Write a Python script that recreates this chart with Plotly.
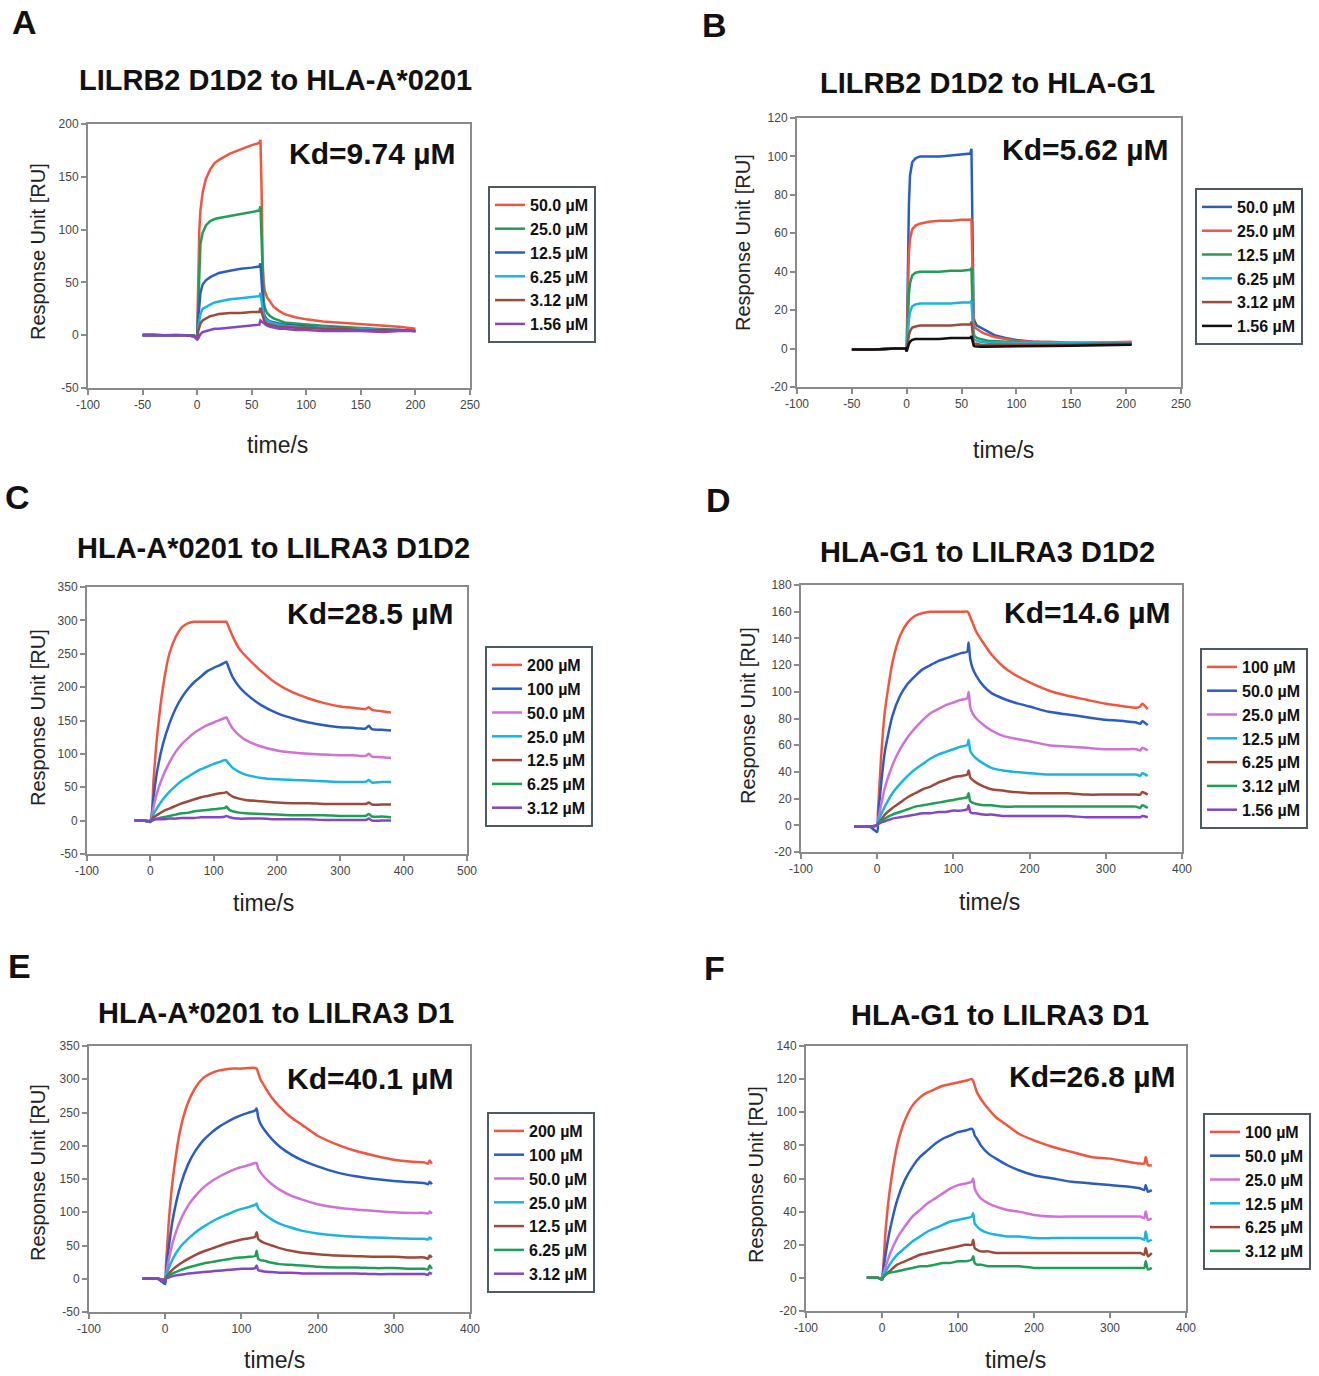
import plotly.graph_objects as go

W, H = 1319, 1376

# ---------------- Panel A: LILRB2 D1D2 to HLA-A*0201 ----------------
a_t = [-50, -40, -30, -20, -10, -3, 0, 1, 2, 3, 5, 8, 12, 16, 20, 30, 40, 50, 57, 58, 59, 60, 61, 62, 64, 67, 70, 75, 80, 90, 100, 115, 130, 150, 170, 185, 200]
a_500 = [1, 1, 0, 0.5, 0, 0, -2, 60, 100, 118, 135, 148, 157, 163, 166, 172, 176, 180, 182, 185, 140, 70, 50, 42, 36, 31, 27, 23, 20, 17, 15, 13, 12, 10, 9, 8, 6]
a_250 = [0, 0, 0, 0, 0, 0, -3, 35, 70, 86, 97, 104, 108, 110, 111, 113, 115, 117, 118, 122, 90, 45, 32, 26, 21, 18, 16, 14, 12, 11, 10, 9, 8, 7, 6, 5, 4]
a_125 = [0, 0, 0, 0, 0, -1, -3, 15, 30, 40, 48, 52, 55, 57, 59, 61, 63, 64, 65, 68, 50, 28, 21, 18, 15, 13, 12, 11, 10, 9, 8, 7, 7, 6, 5, 5, 4]
a_625 = [0, 0, 0, 0, 0, -1, -4, 8, 15, 20, 25, 27, 29, 31, 32, 34, 35, 36, 37, 40, 32, 22, 18, 16, 14, 12, 11, 10, 9, 8, 7, 7, 6, 6, 5, 5, 4]
a_312 = [0, 0, 0, 0, 0, -1, -3, 4, 8, 11, 14, 16, 18, 19, 20, 21, 21, 22, 22, 26, 22, 17, 15, 13, 11, 10, 9, 8, 8, 7, 7, 6, 6, 5, 5, 5, 4]
a_156 = [0, 0, 0, 0, 0, -1, -4, -3, -1, 1, 3, 4, 5, 6, 6, 7, 8, 9, 10, 14, 13, 12, 11, 10, 9, 8, 7, 6, 6, 5, 5, 4, 4, 4, 3, 4, 4]

# ---------------- Panel B: LILRB2 D1D2 to HLA-G1 ----------------
b_t = [-50, -30, -10, -1, 0, 1, 2, 3, 5, 8, 12, 20, 30, 40, 50, 58, 59, 60, 61, 62, 64, 67, 70, 75, 80, 90, 100, 115, 130, 150, 175, 205]
b_500 = [-0.5, -0.5, 0, 0, -1, 40, 75, 90, 97, 99, 100, 100, 100, 100.5, 101, 101.5, 104, 60, 16, 14, 12, 11, 10, 8.5, 7, 5.5, 4.5, 3.5, 3, 2.5, 2.5, 2.5]
b_250 = [-0.5, -0.5, 0, 0, -1, 30, 50, 57, 62, 64, 65, 66, 66.5, 66.5, 67, 67, 67.5, 40, 13, 11, 10, 9, 8, 7, 6, 5, 4, 3.5, 3.5, 3, 3, 3.5]
b_125 = [-0.5, -0.5, 0, 0, -1, 15, 28, 34, 38, 39.5, 40, 40, 40, 40.5, 40.5, 41, 42, 20, 8, 6.5, 5.5, 5, 4.5, 4, 4, 3.5, 3.5, 3, 3, 3, 3, 3]
b_625 = [-0.5, -0.5, 0, 0, -1, 8, 15, 19, 22, 23, 23.5, 23.5, 23.5, 23.5, 24, 24, 25, 10, 5, 4.5, 4, 3.5, 3.5, 3, 3, 3, 3, 3, 3, 3, 3, 3]
b_312 = [-0.5, -0.5, 0, 0, -1, 4, 7, 9, 11, 11.5, 12, 12, 12, 12, 12.5, 12.5, 14, 6, 3, 2.5, 2.5, 2, 2, 2, 2, 2, 2, 2, 2, 2, 2.5, 2.5]
b_156 = [-0.5, -0.5, 0, 0, -1.5, 1, 2.5, 3.5, 4.5, 5, 5, 5, 5, 5.5, 5.5, 5.5, 6.5, 3, 1.5, 1.2, 1, 1, 1, 1, 1, 1, 1, 1.2, 1.3, 1.5, 1.8, 2]

# ---------------- Panel C: HLA-A*0201 to LILRA3 D1D2 ----------------
c_t = [-25, -10, 0, 5, 10, 20, 30, 40, 50, 60, 70, 80, 90, 100, 110, 118, 120, 125, 130, 140, 150, 175, 200, 225, 250, 275, 300, 320, 330, 340, 345, 350, 365, 380]
c_200 = [0, 0, 0, 60, 120, 200, 250, 275, 290, 296, 298, 298, 298, 298, 298, 298, 298, 287, 276, 258, 247, 224, 205, 192, 183, 176, 171, 169, 168, 167, 170, 166, 164, 162]
c_100 = [0, 0, 0, 35, 70, 115, 145, 168, 185, 198, 208, 216, 224, 229, 233, 237, 238, 226, 215, 201, 191, 173, 161, 153, 147, 143, 140, 139, 138, 138, 142, 137, 136, 135]
c_500 = [0, 0, 0, 20, 40, 67, 87, 103, 115, 124, 132, 138, 143, 147, 151, 154, 155, 146, 138, 128, 121, 111, 105, 102, 100, 99, 98, 98, 97, 97, 100, 96, 95, 94]
c_250 = [0, 0, -2, 10, 18, 32, 43, 52, 60, 66, 72, 77, 81, 85, 88, 91, 90, 84, 79, 73, 69, 64, 62, 61, 60, 59, 58, 58, 58, 58, 61, 57, 58, 58]
c_125 = [0, 0, -1, 5, 8, 14, 18, 22, 26, 29, 32, 35, 37, 39, 41, 42, 43, 39, 36, 33, 31, 29, 27, 26, 26, 25, 25, 25, 25, 25, 27, 24, 24, 24]
c_625 = [0, 0, -2, 2, 3, 5, 7, 9, 11, 12, 14, 15, 16, 17, 18, 19, 21, 16, 14, 12, 11, 10, 9, 8, 8, 8, 7, 7, 7, 7, 10, 6, 6, 5]
c_312 = [0, 0, -1, 1, 2, 2, 3, 3, 4, 4, 4, 5, 5, 5, 5, 6, 7, 5, 4, 3, 3, 3, 2, 2, 2, 1, 1, 1, 1, 1, 3, 0, 0, 0]

# ---------------- Panel D: HLA-G1 to LILRA3 D1D2 ----------------
d_t = [-30, -10, 0, 1, 5, 10, 20, 30, 40, 50, 60, 70, 80, 90, 100, 110, 118, 120, 122, 125, 130, 140, 150, 165, 180, 200, 225, 250, 275, 300, 325, 340, 345, 348, 355]
d_100 = [-1, -1, 0, 10, 50, 85, 122, 142, 152, 157, 159, 160, 160, 160, 160, 160, 160, 159, 156, 152, 145, 136, 128, 119, 113, 107, 101, 97, 94, 91, 89, 88, 89, 91, 87]
d_500 = [-1, -1, -5, 5, 30, 55, 82, 97, 106, 112, 117, 120, 123, 125, 127, 129, 130, 137, 125, 118, 112, 104, 99, 95, 92, 89, 85, 83, 81, 79, 78, 77, 76, 78, 75]
d_250 = [-1, -1, 0, 3, 15, 28, 45, 57, 66, 73, 79, 84, 87, 90, 92, 94, 95, 100, 89, 84, 80, 75, 71, 67, 65, 63, 60, 59, 58, 57, 57, 57, 56, 58, 56]
d_125 = [-1, -1, 0, 2, 8, 14, 24, 31, 37, 42, 46, 50, 53, 55, 57, 59, 60, 64, 56, 53, 50, 46, 43, 41, 40, 39, 38, 38, 38, 38, 38, 38, 37, 39, 37]
d_625 = [-1, -1, 0, 1, 4, 8, 13, 17, 21, 24, 27, 29, 32, 34, 36, 37, 38, 41, 36, 34, 32, 29, 27, 26, 25, 24, 24, 24, 23, 23, 23, 23, 23, 25, 23]
d_312 = [-1, -1, 0, 1, 3, 5, 8, 10, 12, 14, 15, 16, 17, 18, 19, 20, 21, 24, 18, 17, 16, 15, 15, 14, 14, 14, 14, 14, 14, 14, 14, 14, 13, 15, 13]
d_156 = [-1, -1, 0, 1, 2, 3, 5, 6, 7, 8, 9, 9, 10, 10, 11, 11, 12, 15, 10, 9, 9, 8, 8, 7, 7, 7, 7, 7, 6, 6, 6, 6, 6, 7, 6]

# ---------------- Panel E: HLA-A*0201 to LILRA3 D1 ----------------
e_t = [-30, -10, 0, 1, 5, 10, 20, 30, 40, 50, 60, 70, 80, 90, 100, 110, 118, 120, 122, 125, 130, 140, 150, 165, 180, 200, 225, 250, 275, 300, 325, 340, 345, 347, 350]
e_200 = [0, 0, 0, 20, 90, 150, 225, 265, 288, 302, 309, 313, 315, 316, 316, 317, 317, 316, 310, 300, 290, 272, 259, 243, 231, 215, 202, 192, 185, 179, 176, 175, 173, 178, 173]
e_100 = [0, 0, -8, 10, 50, 90, 140, 172, 193, 208, 219, 228, 235, 241, 246, 250, 253, 256, 243, 233, 224, 210, 199, 187, 178, 169, 160, 154, 150, 147, 145, 144, 142, 146, 142]
e_500 = [0, 0, -2, 5, 30, 55, 88, 110, 125, 137, 146, 153, 159, 164, 168, 171, 174, 174, 166, 160, 153, 142, 134, 125, 119, 112, 107, 104, 102, 100, 99, 99, 98, 101, 98]
e_250 = [0, 0, -3, 3, 17, 30, 48, 60, 70, 78, 85, 91, 96, 101, 105, 108, 111, 113, 106, 102, 97, 89, 83, 77, 72, 68, 65, 63, 62, 61, 60, 60, 59, 62, 59]
e_125 = [0, 0, -3, 1, 8, 14, 23, 30, 36, 41, 45, 49, 53, 56, 59, 61, 63, 70, 60, 57, 54, 50, 46, 42, 39, 37, 35, 34, 33, 33, 32, 32, 30, 35, 32]
e_625 = [0, 0, -3, 1, 5, 8, 13, 17, 20, 23, 25, 27, 29, 31, 32, 33, 34, 42, 30, 28, 27, 24, 22, 21, 20, 18, 17, 17, 16, 16, 15, 15, 14, 20, 15]
e_312 = [0, 0, -3, 0, 2, 4, 6, 8, 9, 10, 11, 12, 13, 14, 15, 15, 16, 20, 13, 12, 11, 10, 9, 9, 8, 8, 8, 8, 7, 7, 7, 7, 6, 9, 7]

# ---------------- Panel F: HLA-G1 to LILRA3 D1 ----------------
f_t = [-20, -5, 0, 1, 5, 10, 20, 30, 40, 50, 60, 70, 80, 90, 100, 110, 118, 120, 122, 125, 130, 140, 150, 165, 180, 200, 225, 250, 275, 300, 325, 340, 345, 347, 350, 355]
f_100 = [0, 0, 0, 3, 30, 52, 80, 95, 104, 109, 112, 114, 116, 117, 118, 119, 120, 119, 116, 112, 108, 102, 97, 92, 87, 83, 79, 76, 73, 72, 70, 69, 69, 73, 68, 68]
f_500 = [0, 0, -1, 2, 15, 28, 47, 59, 67, 73, 77, 81, 84, 86, 88, 89, 90, 89, 86, 84, 80, 75, 72, 68, 65, 62, 60, 58, 57, 56, 55, 54, 53, 56, 52, 53]
f_250 = [0, 0, -1, 1, 7, 14, 24, 31, 37, 41, 45, 48, 51, 54, 56, 57, 58, 60, 54, 51, 48, 45, 43, 41, 40, 38, 37, 37, 37, 37, 37, 37, 36, 40, 35, 36]
f_125 = [0, 0, -1, 1, 4, 8, 14, 18, 22, 25, 28, 30, 32, 34, 35, 36, 37, 39, 33, 31, 29, 27, 26, 25, 25, 24, 24, 24, 24, 24, 24, 24, 23, 28, 22, 23]
f_625 = [0, 0, -1, 0, 2, 4, 8, 10, 12, 14, 15, 16, 17, 18, 19, 20, 20, 23, 18, 17, 16, 16, 15, 15, 15, 15, 15, 15, 15, 15, 15, 15, 14, 18, 13, 15]
f_312 = [0, 0, -1, 0, 2, 3, 4, 5, 6, 7, 7, 8, 9, 9, 10, 10, 11, 13, 9, 8, 8, 7, 7, 7, 7, 6, 6, 6, 6, 6, 6, 6, 6, 10, 5, 6]

# ---------------- text ----------------
titles = ["LILRB2 D1D2 to HLA-A*0201", "LILRB2 D1D2 to HLA-G1", "HLA-A*0201 to LILRA3 D1D2",
          "HLA-G1 to LILRA3 D1D2", "HLA-A*0201 to LILRA3 D1", "HLA-G1 to LILRA3 D1"]
kd_labels = ["Kd=9.74 µM", "Kd=5.62 µM", "Kd=28.5 µM", "Kd=14.6 µM", "Kd=40.1 µM", "Kd=26.8 µM"]
letters = ["A", "B", "C", "D", "E", "F"]

# axis ticks
x_ticks = [[-100, -50, 0, 50, 100, 150, 200, 250], [-100, -50, 0, 50, 100, 150, 200, 250],
           [-100, 0, 100, 200, 300, 400, 500], [-100, 0, 100, 200, 300, 400],
           [-100, 0, 100, 200, 300, 400], [-100, 0, 100, 200, 300, 400]]
y_ticks = [[-50, 0, 50, 100, 150, 200], [-20, 0, 20, 40, 60, 80, 100, 120],
           [-50, 0, 50, 100, 150, 200, 250, 300, 350], [-20, 0, 20, 40, 60, 80, 100, 120, 140, 160, 180],
           [-50, 0, 50, 100, 150, 200, 250, 300, 350], [-20, 0, 20, 40, 60, 80, 100, 120, 140]]

RED = "#f2553f"
GREEN = "#1f9e55"
BLUE = "#2a5cc4"
CYAN = "#19b5e0"
BROWN = "#9c4a3c"
PURPLE = "#8446c4"
PINK = "#cf72d4"
BLACK = "#111111"

series = [
    (a_t, [("50.0 µM", a_500, RED), ("25.0 µM", a_250, GREEN), ("12.5 µM", a_125, BLUE),
           ("6.25 µM", a_625, CYAN), ("3.12 µM", a_312, BROWN), ("1.56 µM", a_156, PURPLE)]),
    (b_t, [("50.0 µM", b_500, BLUE), ("25.0 µM", b_250, RED), ("12.5 µM", b_125, GREEN),
           ("6.25 µM", b_625, CYAN), ("3.12 µM", b_312, BROWN), ("1.56 µM", b_156, BLACK)]),
    (c_t, [("200 µM", c_200, RED), ("100 µM", c_100, BLUE), ("50.0 µM", c_500, PINK),
           ("25.0 µM", c_250, CYAN), ("12.5 µM", c_125, BROWN), ("6.25 µM", c_625, GREEN),
           ("3.12 µM", c_312, PURPLE)]),
    (d_t, [("100 µM", d_100, RED), ("50.0 µM", d_500, BLUE), ("25.0 µM", d_250, PINK),
           ("12.5 µM", d_125, CYAN), ("6.25 µM", d_625, BROWN), ("3.12 µM", d_312, GREEN),
           ("1.56 µM", d_156, PURPLE)]),
    (e_t, [("200 µM", e_200, RED), ("100 µM", e_100, BLUE), ("50.0 µM", e_500, PINK),
           ("25.0 µM", e_250, CYAN), ("12.5 µM", e_125, BROWN), ("6.25 µM", e_625, GREEN),
           ("3.12 µM", e_312, PURPLE)]),
    (f_t, [("100 µM", f_100, RED), ("50.0 µM", f_500, BLUE), ("25.0 µM", f_250, PINK),
           ("12.5 µM", f_125, CYAN), ("6.25 µM", f_625, BROWN), ("3.12 µM", f_312, GREEN)]),
]
smooth_panel = [False, False, True, True, True, True]

# layout geometry (pixels)
x_ranges = [[-100, 250], [-100, 250], [-100, 500], [-100, 400], [-100, 400], [-100, 400]]
y_ranges = [[-50, 200], [-20, 120], [-50, 350], [-20, 180], [-50, 350], [-20, 140]]
plot_boxes = [(88, 470, 124, 388), (797, 1181, 118, 387), (87, 467, 587, 854),
              (801, 1182, 585, 852), (89, 470, 1046, 1312), (806, 1186, 1046, 1311)]
legend_pos = [(488, 186), (1195, 188), (485, 646), (1200, 648), (487, 1112), (1203, 1113)]
letter_pos = [(24, 22), (714, 25), (17, 497), (718, 500), (19, 966), (714, 968)]
title_pos = [(275, 80), (987, 83), (273, 548), (987, 552), (276, 1013), (1000, 1015)]
kd_pos = [(372, 153), (1085, 150), (370, 613), (1087, 612), (370, 1078), (1092, 1076)]
ytitle_pos = [(38, 252), (743, 243), (38, 718), (748, 716), (38, 1173), (756, 1175)]
xtitle_pos = [(277, 445), (1003, 450), (263, 903), (990, 902), (274, 1360), (1015, 1360)]


def px(x):
    return x / W


def py(y):
    return 1 - y / H


FONT = "Liberation Sans, Arial, sans-serif"
AXC = "#8a8a8a"

fig = go.Figure()
layout = dict(
    width=W, height=H, margin=dict(l=0, r=0, t=0, b=0, pad=0, autoexpand=False),
    paper_bgcolor="white", plot_bgcolor="white",
    font=dict(family=FONT, color="#222"),
    showlegend=True,
)
annotations = []


def ann(text, pos, size, bold=False, angle=0, color="#111"):
    f = dict(size=size, family=FONT, color=color)
    if bold:
        f["weight"] = "bold"
    return dict(text=text, x=px(pos[0]), y=py(pos[1]), xref="paper", yref="paper",
                xanchor="center", yanchor="middle", showarrow=False, textangle=angle, font=f)


for i, (t, sers) in enumerate(series):
    n = i + 1
    xa = "x" if n == 1 else f"x{n}"
    ya = "y" if n == 1 else f"y{n}"
    lg = "legend" if n == 1 else f"legend{n}"
    for name, vals, col in sers:
        line = dict(color=col, width=2.5)
        if smooth_panel[i]:
            line.update(shape="spline", smoothing=0.6)
        fig.add_trace(go.Scatter(x=t, y=vals, mode="lines", name=name, line=line,
                                 xaxis=xa, yaxis=ya, legend=lg))
    x0, x1, y0, y1 = plot_boxes[i]
    axis_common = dict(showline=True, linecolor=AXC, linewidth=2, mirror=True,
                       ticks="outside", ticklen=5, tickcolor=AXC, tickwidth=1.5,
                       tickfont=dict(size=12, color="#444", family=FONT),
                       showgrid=False, zeroline=False, tickmode="array")
    layout["xaxis" if n == 1 else f"xaxis{n}"] = dict(
        domain=[px(x0), px(x1)], anchor=ya, range=x_ranges[i],
        tickvals=x_ticks[i], ticktext=[str(v) for v in x_ticks[i]], **axis_common)
    layout["yaxis" if n == 1 else f"yaxis{n}"] = dict(
        domain=[py(y1), py(y0)], anchor=xa, range=y_ranges[i],
        tickvals=y_ticks[i], ticktext=[str(v) for v in y_ticks[i]], **axis_common)
    lx, ly = legend_pos[i]
    layout[lg] = dict(x=px(lx), y=py(ly), xanchor="left", yanchor="top",
                      bordercolor="#4d5a60", borderwidth=2, bgcolor="white",
                      font=dict(size=16, family=FONT, color="#111", weight="bold"),
                      itemwidth=30, tracegroupgap=0)

    annotations.append(ann(letters[i], letter_pos[i], 34, bold=True))
    annotations.append(ann(titles[i], title_pos[i], 29, bold=True))
    annotations.append(ann(kd_labels[i], kd_pos[i], 30, bold=True))
    annotations.append(ann("Response Unit [RU]", ytitle_pos[i], 20, angle=-90, color="#222"))
    annotations.append(ann("time/s", xtitle_pos[i], 23, color="#222"))

layout["annotations"] = annotations
fig.update_layout(**layout)
fig.write_html("out.html", config={"displayModeBar": False},
               post_script="document.body.style.margin='0';document.body.style.overflow='hidden';")
